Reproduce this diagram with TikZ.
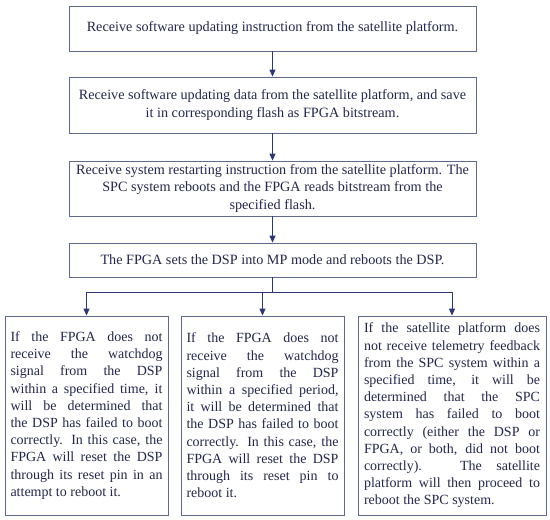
\documentclass[tikz,border=0pt]{standalone}
\usepackage{fontspec}
\setmainfont{Liberation Serif}
\usetikzlibrary{arrows.meta}
\definecolor{boxline}{RGB}{95,105,140}
\definecolor{flowtext}{RGB}{35,40,75}
\definecolor{flowarrow}{RGB}{45,55,115}
\tikzset{
  stepbox/.style={draw=boxline, line width=0.8pt, text=flowtext,
                  font=\fontsize{14.2}{17.2}\selectfont, align=center, inner sep=0pt},
  failbox/.style={stepbox, font=\fontsize{14}{17.2}\selectfont, align=justify, minimum height=199pt},
  flow/.style={flowarrow, line width=1pt, -{Triangle[width=6pt,length=7pt]}},
}
\begin{document}
\begin{tikzpicture}[x=1pt,y=-1pt]
      \useasboundingbox[fill=white] (0,0) rectangle (550,520);
      % main sequence
      \node[stepbox, minimum width=407pt, minimum height=45pt] (recv) at (272.5,28.5)
        {Receive software updating instruction from the satellite platform.};
      \node[stepbox, minimum width=407pt, minimum height=56pt] (save) at (272.5,105)
        {Receive software updating data from the satellite platform, and save\\
         it in corresponding flash as FPGA bitstream.};
      \node[stepbox, minimum width=407pt, minimum height=55pt] (restart) at (272.5,188.5)
        {Receive system restarting instruction from the satellite platform. The\\
         SPC system reboots and the FPGA reads bitstream from the\\
         specified flash.};
      \node[stepbox, minimum width=407pt, minimum height=34pt] (mpmode) at (272.5,260)
        {The FPGA sets the DSP into MP mode and reboots the DSP.};
      % failure cases
      \node[failbox, text width=152pt, inner xsep=5.5pt] (dspa) at (86.5,415.5)
        {If the FPGA does not\linebreak
         receive the watchdog\linebreak
         signal from the DSP\linebreak
         within a specified time, it\linebreak
         will be determined that\linebreak
         the DSP has failed to boot\linebreak
         correctly. In this case, the\linebreak
         FPGA will reset the DSP\linebreak
         through its reset pin in an\linebreak
         attempt to reboot it.};
      \node[failbox, text width=152pt, inner xsep=5.5pt] (dspb) at (262.5,415.5)
        {If the FPGA does not\linebreak
         receive the watchdog\linebreak
         signal from the DSP\linebreak
         within a specified period,\linebreak
         it will be determined that\linebreak
         the DSP has failed to boot\linebreak
         correctly. In this case, the\linebreak
         FPGA will reset the DSP\linebreak
         through its reset pin to\linebreak
         reboot it.};
      \node[failbox, text width=176pt, inner xsep=6pt] (spc) at (452,415.5)
        {If the satellite platform does\linebreak
         not receive telemetry feedback\linebreak
         from the SPC system within a\linebreak
         specified time, it will be\linebreak
         determined that the SPC\linebreak
         system has failed to boot\linebreak
         correctly (either the DSP or\linebreak
         FPGA, or both, did not boot\linebreak
         correctly). The satellite\linebreak
         platform will then proceed to\linebreak
         reboot the SPC system.};
      % connectors
      \draw[flow] (recv) -- (save);
      \draw[flow] (save) -- (restart);
      \draw[flow] (restart) -- (mpmode);
      \draw[flowarrow, line width=1pt] (mpmode.south) -- ++(0,15) coordinate (split);
      \draw[flow] (split) -| (dspa.north);
      \draw[flow] (split) -| (spc.north);
      \draw[flow] (dspb.north |- split) -- (dspb.north);
    \end{tikzpicture}
\end{document}
